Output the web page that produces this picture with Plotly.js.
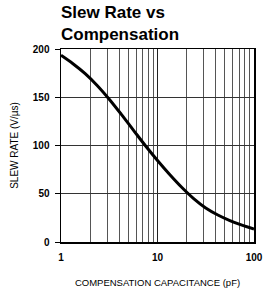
<!DOCTYPE html>
<html>
<head>
<meta charset="utf-8">
<script src="https://cdn.plot.ly/plotly-3.0.1.min.js"></script>
<style>html,body{margin:0;padding:0;background:#fff;}#chart{width:264px;height:291px;}</style>
</head>
<body>
<div id="chart"></div>
<script>
const capacitance = [1, 1.33, 1.78, 2.37, 3.16, 4.22, 5.62, 7.5, 10, 13.3, 17.8, 23.7, 31.6, 42.2, 56.2, 75, 100];
const slewRate = [193.5, 184.75, 174.5, 162.25, 148, 132.25, 116, 99.75, 84.5, 70.25, 56.75, 45, 35.25, 28, 22.25, 17.5, 13.5];
const xTickVals = [1, 10, 100];
const xTickText = ["1", "10", "100"];
const xMinorVals = [2, 3, 4, 5, 6, 7, 8, 9, 20, 30, 40, 50, 60, 70, 80, 90];
const yTickVals = [0, 50, 100, 150, 200];

const sans = "Arial, Liberation Sans, sans-serif";

const trace = {
  x: capacitance, y: slewRate, type: 'scatter', mode: 'lines',
  line: {color: '#000', width: 3, shape: 'spline', smoothing: 1},
  hoverinfo: 'skip'
};

const layout = {
  width: 264, height: 291,
  margin: {l: 61, r: 10, t: 49, b: 49},
  paper_bgcolor: '#fff', plot_bgcolor: '#fff',
  showlegend: false,
  title: {
    text: 'Slew Rate vs<br>Compensation',
    font: {family: sans, size: 17, color: '#000', weight: 'bold'},
    x: 0, xref: 'paper', xanchor: 'left',
    y: 0.939, yref: 'container', yanchor: 'middle'
  },
  xaxis: {
    type: 'log', range: [0, 2],
    tickmode: 'array', tickvals: xTickVals, ticktext: xTickText,
    showgrid: true, gridcolor: '#222', gridwidth: 1,
    minor: {tickmode: 'array', tickvals: xMinorVals, showgrid: true, gridcolor: '#555', gridwidth: 1, ticks: ''},
    showline: true, linecolor: '#000', linewidth: 1.5, mirror: true,
    ticks: '', zeroline: false, ticklabelstandoff: 5,
    tickfont: {family: sans, size: 10, color: '#000', weight: 'bold'},
    title: {text: 'COMPENSATION CAPACITANCE (pF)', font: {family: sans, size: 9.5, color: '#000'}, standoff: 18}
  },
  yaxis: {
    range: [0, 200], tickmode: 'array', tickvals: yTickVals,
    showgrid: true, gridcolor: '#333', gridwidth: 1,
    showline: true, linecolor: '#000', linewidth: 1.5, mirror: true,
    ticks: 'outside', ticklen: 5, tickcolor: '#000', zeroline: false, ticklabelstandoff: 3,
    tickfont: {family: sans, size: 10, color: '#000', weight: 'bold'},
    title: {text: 'SLEW RATE (V/µs)', font: {family: sans, size: 10, color: '#000'}, standoff: 12}
  }
};

Plotly.newPlot('chart', [trace], layout, {staticPlot: true, displayModeBar: false});
</script>
</body>
</html>
